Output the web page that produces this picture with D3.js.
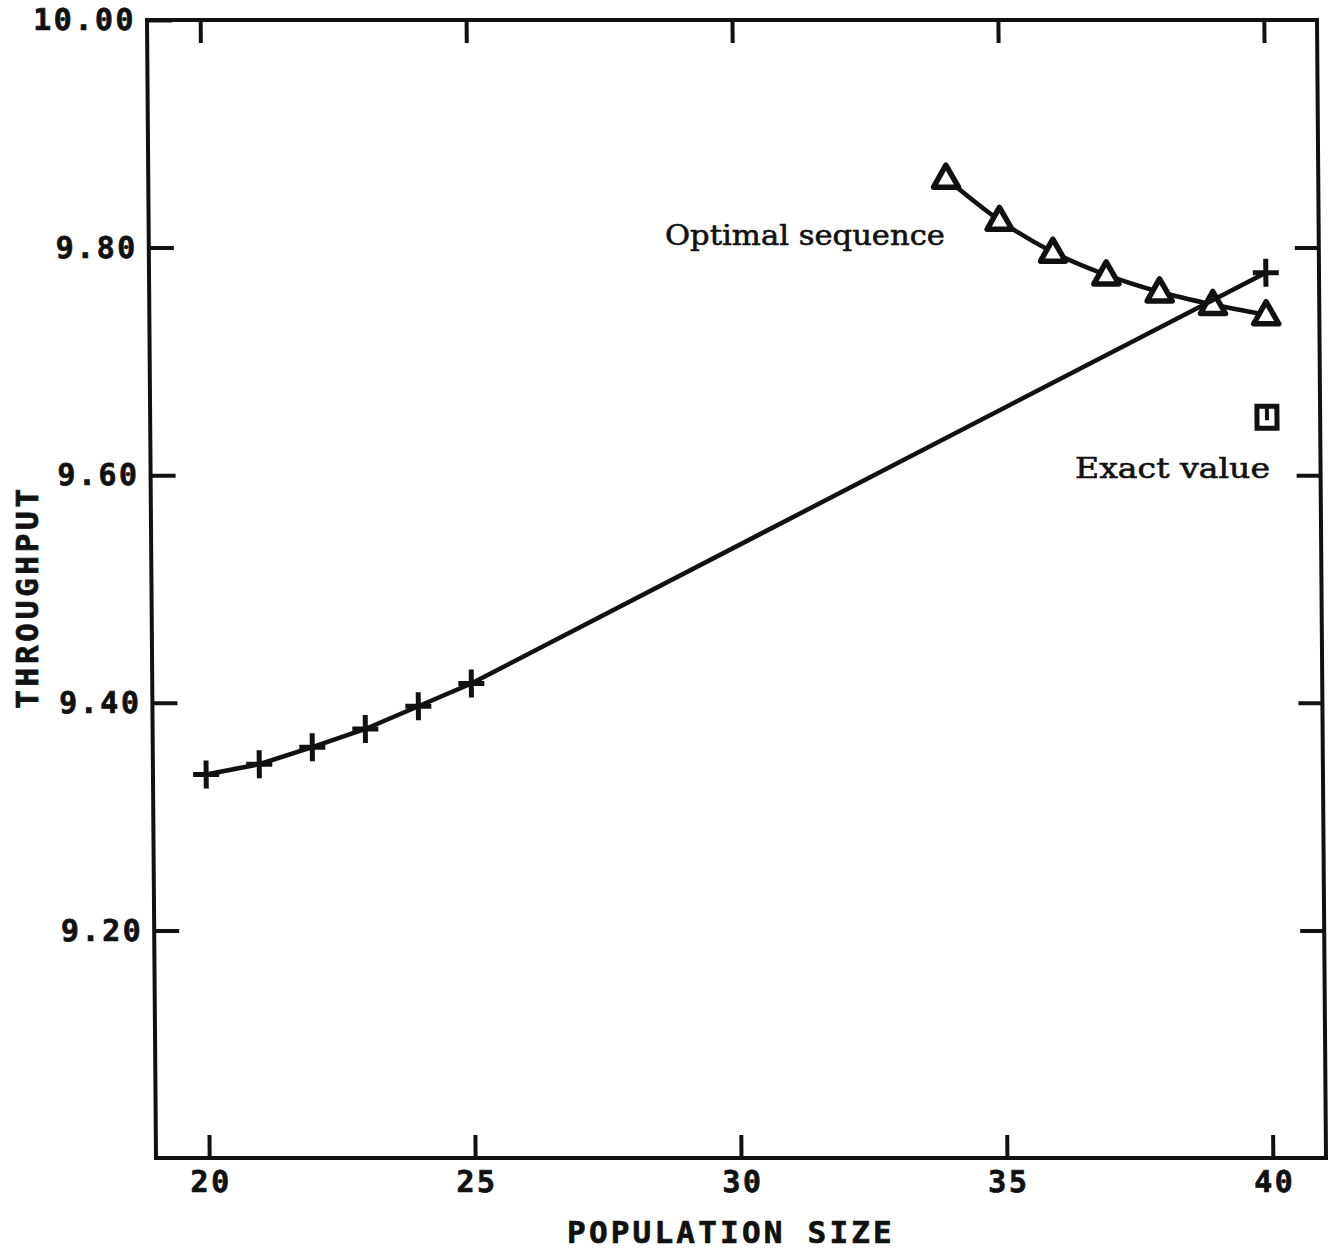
<!DOCTYPE html>
<html>
<head>
<meta charset="utf-8">
<script src="https://cdn.jsdelivr.net/npm/d3@7"></script>
<style>
  body { margin: 0; background: #fff; }
  .tick text { font-family: "DejaVu Sans Mono", monospace; font-weight: bold; font-size: 30px; letter-spacing: 2.5px; fill: #111; stroke: #111; stroke-width: 0.7px; }
  .tick line { stroke: #111; stroke-width: 4; }
</style>
</head>
<body>
<svg id="chart" width="1332" height="1251"></svg>
<script>
// population sizes + throughput
var seqX = [20, 21, 22, 23, 24, 25, 40];
var seqY = [9.337, 9.346, 9.361, 9.377, 9.397, 9.417, 9.778];

var optX = [34, 35, 36, 37, 38, 39, 40];
var optY = [9.861, 9.824, 9.796, 9.776, 9.761, 9.750, 9.741];

var exactX = [40];
var exactY = [9.651];

var xTicks = [20, 25, 30, 35, 40];
var yTicks = [9.2, 9.4, 9.6, 9.8, 10.0];
var yTicksRight = [9.2, 9.4, 9.6, 9.8];

var W = 1332, H = 1251;
var pLeft = 156, pRight = 1326, pTop = 20, pBottom = 1158;

var svg = d3.select("#chart");
svg.append("rect").attr("width", W).attr("height", H).attr("fill", "#fff");

var x = d3.scaleLinear().domain([19, 41]).range([pLeft, pRight]);
var y = d3.scaleLinear().domain([9.0, 10.0]).range([pBottom, pTop]);

// the scanned frame leans a little: top edge sits ~9px left of bottom edge
var g = svg.append("g")
  .attr("transform", "translate(0," + pBottom + ") skewX(0.453) translate(0," + (-pBottom) + ")");

// frame
g.append("rect")
  .attr("x", pLeft).attr("y", pTop)
  .attr("width", pRight - pLeft).attr("height", pBottom - pTop)
  .attr("fill", "none").attr("stroke", "#111").attr("stroke-width", 4);

// axes, ticks pointing inward
var xb = g.append("g").attr("transform", "translate(0," + pBottom + ")")
  .call(d3.axisBottom(x).tickValues(xTicks).tickSizeInner(-23).tickSizeOuter(0).tickPadding(13)
    .tickFormat(d3.format("d")));
var xt = g.append("g").attr("transform", "translate(0," + pTop + ")")
  .call(d3.axisTop(x).tickValues(xTicks).tickSizeInner(-23).tickSizeOuter(0).tickFormat(""));
var yl = g.append("g").attr("transform", "translate(" + pLeft + ",0)")
  .call(d3.axisLeft(y).tickValues(yTicks).tickSizeInner(-25).tickSizeOuter(0).tickPadding(11)
    .tickFormat(d3.format(".2f")));
var yr = g.append("g").attr("transform", "translate(" + pRight + ",0)")
  .call(d3.axisRight(y).tickValues(yTicksRight).tickSizeInner(-24).tickSizeOuter(0).tickFormat(""));

[xb, xt, yl, yr].forEach(function(a){ a.select(".domain").remove(); });
xb.selectAll("text").attr("dx", "1.2");

// axis titles
svg.append("text")
  .attr("x", 731).attr("y", 1243)
  .attr("text-anchor", "middle")
  .style("font-family", "'DejaVu Sans Mono', monospace")
  .style("font-weight", "bold").style("font-size", "31px").style("letter-spacing", "3.2px")
  .attr("fill", "#111").attr("stroke", "#111").attr("stroke-width", 0.7)
  .text("POPULATION SIZE");

svg.append("text")
  .attr("transform", "translate(38,597) rotate(-90)")
  .attr("text-anchor", "middle")
  .style("font-family", "'DejaVu Sans Mono', monospace")
  .style("font-weight", "bold").style("font-size", "31px").style("letter-spacing", "3.7px")
  .attr("fill", "#111").attr("stroke", "#111").attr("stroke-width", 0.7)
  .text("THROUGHPUT");

// series
var optData = optX.map(function(d, i){ return [d, optY[i]]; });
var seqData = seqX.map(function(d, i){ return [d, seqY[i]]; });
var exactData = exactX.map(function(d, i){ return [d, exactY[i]]; });

g.append("path")
  .datum(optData)
  .attr("d", d3.line().x(function(d){ return x(d[0]); }).y(function(d){ return y(d[1]); }).curve(d3.curveMonotoneX))
  .attr("fill", "none").attr("stroke", "#111").attr("stroke-width", 4.5);

g.selectAll(".tri")
  .data(optData)
  .enter().append("path")
  .attr("class", "tri")
  .attr("transform", function(d){ return "translate(" + x(d[0]) + "," + y(d[1]) + ")"; })
  .attr("d", "M0,-13L12.5,9L-12.5,9Z")
  .attr("fill", "#fff").attr("stroke", "#111").attr("stroke-width", 5.5).attr("stroke-linejoin", "round");

g.append("path")
  .datum(seqData)
  .attr("d", d3.line().x(function(d){ return x(d[0]); }).y(function(d){ return y(d[1]); }))
  .attr("fill", "none").attr("stroke", "#111").attr("stroke-width", 4.5);

g.selectAll(".plus")
  .data(seqData)
  .enter().append("path")
  .attr("class", "plus")
  .attr("transform", function(d){ return "translate(" + x(d[0]) + "," + y(d[1]) + ")"; })
  .attr("d", "M-13,0H13M0,-14V14")
  .attr("stroke", "#111").attr("stroke-width", 5);

var sq = g.selectAll(".exact")
  .data(exactData)
  .enter().append("g")
  .attr("class", "exact")
  .attr("transform", function(d){ return "translate(" + x(d[0]) + "," + y(d[1]) + ")"; });
sq.append("rect")
  .attr("x", -10).attr("y", -11).attr("width", 20).attr("height", 22)
  .attr("fill", "#fff").attr("stroke", "#111").attr("stroke-width", 5);
sq.append("path").attr("d", "M0,-10V3").attr("stroke", "#111").attr("stroke-width", 4);

// annotations
svg.append("text")
  .attr("x", 665).attr("y", 245)
  .attr("textLength", 280).attr("lengthAdjust", "spacingAndGlyphs")
  .style("font-family", "'DejaVu Serif', serif").style("font-size", "28px")
  .attr("fill", "#111").attr("stroke", "#111").attr("stroke-width", 0.6)
  .text("Optimal sequence");

svg.append("text")
  .attr("x", 1075).attr("y", 478)
  .attr("textLength", 195).attr("lengthAdjust", "spacingAndGlyphs")
  .style("font-family", "'DejaVu Serif', serif").style("font-size", "28px")
  .attr("fill", "#111").attr("stroke", "#111").attr("stroke-width", 0.6)
  .text("Exact value");
</script>
</body>
</html>
